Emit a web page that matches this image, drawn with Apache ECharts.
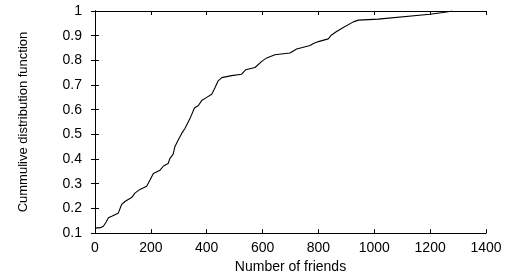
<!DOCTYPE html>
<html>
<head>
<meta charset="utf-8">
<script src="https://cdn.jsdelivr.net/npm/echarts/dist/echarts.min.js"></script>
<style>
  html, body { margin: 0; padding: 0; background: #fff; }
  #chart { width: 514px; height: 279px; }
</style>
</head>
<body>
<div id="chart"></div>
<script>
const friends = [0, 20, 30, 40, 48, 60, 83, 95, 107, 131, 143, 161, 185, 197, 209, 233, 245, 262, 268, 280,
  286, 298, 310, 322, 340, 356, 370, 382, 400, 418, 430, 441, 454, 489, 525, 540, 573, 597, 615, 644,
  698, 722, 770, 782, 800, 835, 847, 865, 889, 925, 943, 1014, 1020, 1199, 1253, 1280]
const cdf = [0.12, 0.122, 0.128, 0.145, 0.162, 0.168, 0.18, 0.215, 0.228, 0.244, 0.262, 0.277, 0.29, 0.315, 0.342, 0.355, 0.372, 0.382, 0.402, 0.42,
  0.45, 0.477, 0.503, 0.524, 0.564, 0.607, 0.617, 0.637, 0.65, 0.663, 0.69, 0.717, 0.73, 0.738, 0.744, 0.762, 0.771, 0.796, 0.81, 0.823,
  0.83, 0.846, 0.86, 0.868, 0.876, 0.887, 0.903, 0.917, 0.933, 0.956, 0.963, 0.967, 0.975, 0.987, 0.995, 1.0]

const xTicks = { min: 0, max: 1400, step: 200 }
const yTicks = { min: 0.1, max: 1, step: 0.1 }

const font = 'Liberation Sans, Arial, sans-serif'
const axisLine = { show: true, lineStyle: { color: '#000', width: 1 } }
const axisTick = { show: true, inside: true, length: 4, lineStyle: { color: '#000' } }

const chart = echarts.init(document.getElementById('chart'))
chart.setOption({
  animation: false,
  grid: { left: 95, right: 28, top: 11, bottom: 43 },
  xAxis: [
    {
      type: 'value',
      min: xTicks.min, max: xTicks.max, interval: xTicks.step,
      name: 'Number of friends',
      nameLocation: 'middle',
      nameGap: 25,
      nameTextStyle: { color: '#000', fontSize: 14, fontFamily: font },
      axisLine: axisLine,
      axisTick: axisTick,
      splitLine: { show: false },
      axisLabel: { color: '#000', fontSize: 14, fontFamily: font, margin: 8, formatter: v => String(v) }
    },
    {
      type: 'value', position: 'top',
      min: xTicks.min, max: xTicks.max, interval: xTicks.step,
      axisLine: axisLine, axisTick: axisTick,
      splitLine: { show: false }, axisLabel: { show: false }
    }
  ],
  yAxis: [
    {
      type: 'value',
      min: yTicks.min, max: yTicks.max, interval: yTicks.step,
      name: 'Cummulive distribution function',
      nameLocation: 'middle',
      nameGap: 65,
      nameTextStyle: { color: '#000', fontSize: 13, fontFamily: font },
      axisLine: axisLine,
      axisTick: axisTick,
      splitLine: { show: false },
      axisLabel: {
        color: '#000', fontSize: 14, fontFamily: font, margin: 13,
        formatter: v => String(+v.toFixed(1))
      }
    },
    {
      type: 'value', position: 'right',
      min: yTicks.min, max: yTicks.max, interval: yTicks.step,
      axisLine: axisLine, axisTick: axisTick,
      splitLine: { show: false }, axisLabel: { show: false }
    }
  ],
  series: [
    {
      type: 'line',
      data: friends.map((f, i) => [f, cdf[i]]),
      showSymbol: false,
      lineStyle: { color: '#000', width: 1.1 }
    }
  ]
})
</script>
</body>
</html>
